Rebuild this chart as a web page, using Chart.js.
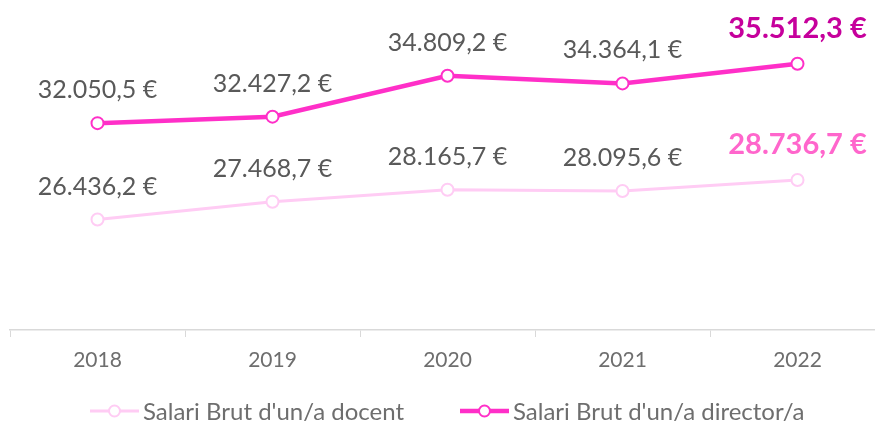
<!DOCTYPE html>
<html lang="ca">
<head>
  <meta charset="UTF-8" />
  <title>Salari brut</title>
  <script src="https://cdn.jsdelivr.net/npm/chart.js"></script>
  <style>
    html, body { margin: 0; padding: 0; background: #fff; overflow: hidden; }
    #chart { display: block; }
  </style>
</head>
<body>
  <canvas id="chart" width="900" height="424"></canvas>

  <script>
    const years = ["2018", "2019", "2020", "2021", "2022"];
    const docent = [26436.2, 27468.7, 28165.7, 28095.6, 28736.7];
    const director = [32050.5, 32427.2, 34809.2, 34364.1, 35512.3];
    const seriesNames = ["Salari Brut d'un/a docent", "Salari Brut d'un/a director/a"];

    const FONT = "Lato, 'Open Sans', sans-serif";
    const GREY = "#595959";
    const AXIS_GREY = "#6e6e6e";

    const lineColors = ["#ffccf4", "#ff2fc8"];
    const lineWidths = [3, 4.5];
    const lastLabelColors = ["#ff66cc", "#c6009c"];

    // 32050.5 -> "32.050,5 €"
    function euro(v) {
      const parts = v.toFixed(1).split(".");
      const ints = parts[0].replace(/\B(?=(\d{3})+(?!\d))/g, ".");
      return ints + "," + parts[1] + " €";
    }

    // value above every point, last one bigger, bold and coloured
    const valueLabels = {
      id: "valueLabels",
      afterDatasetsDraw(chart) {
        const ctx = chart.ctx;
        ctx.save();
        ctx.textAlign = "center";
        ctx.textBaseline = "middle";
        chart.data.datasets.forEach((ds, i) => {
          chart.getDatasetMeta(i).data.forEach((pt, j) => {
            const last = j === ds.data.length - 1;
            ctx.font = last ? "bold 29px " + FONT : "25px " + FONT;
            ctx.fillStyle = last ? lastLabelColors[i] : GREY;
            ctx.fillText(euro(ds.data[j]), pt.x, pt.y - (last ? 35 : 33));
          });
        });
        ctx.restore();
      }
    };

    // legend under the axis: short line with an open marker, then the name
    const lineLegend = {
      id: "lineLegend",
      afterDraw(chart) {
        const ctx = chart.ctx;
        const y = 411;
        const starts = [90, 460];
        ctx.save();
        ctx.font = "24px " + FONT;
        ctx.textAlign = "left";
        ctx.textBaseline = "middle";
        chart.data.datasets.forEach((ds, i) => {
          const x = starts[i];
          ctx.strokeStyle = lineColors[i];
          ctx.lineWidth = lineWidths[i];
          ctx.beginPath(); ctx.moveTo(x, y); ctx.lineTo(x + 49, y); ctx.stroke();
          ctx.fillStyle = "#fff";
          ctx.lineWidth = 2;
          ctx.beginPath(); ctx.arc(x + 24.5, y, 5.5, 0, Math.PI * 2); ctx.fill(); ctx.stroke();
          ctx.fillStyle = AXIS_GREY;
          ctx.fillText(ds.label, x + 53, y + 1);
        });
        ctx.restore();
      }
    };

    new Chart(document.getElementById("chart"), {
      type: "line",
      data: {
        labels: years,
        datasets: [docent, director].map((vals, i) => ({
          label: seriesNames[i],
          data: vals,
          borderColor: lineColors[i],
          borderWidth: lineWidths[i],
          pointBackgroundColor: "#fff",
          pointBorderColor: lineColors[i],
          pointBorderWidth: 2,
          pointRadius: 6,
          tension: 0
        }))
      },
      options: {
        responsive: false,
        animation: false,
        layout: { padding: { left: 10, right: 15, top: 21, bottom: 41 } },
        scales: {
          x: {
            offset: true,
            grid: { display: true, offset: true, drawOnChartArea: false, color: "#d9d9d9", tickLength: 7 },
            border: { color: "#d9d9d9", width: 1.5 },
            ticks: { color: AXIS_GREY, font: { family: FONT, size: 21 }, padding: 10.4 }
          },
          y: {
            display: false,
            min: 20000,
            max: 38000
          }
        },
        plugins: {
          tooltip: { enabled: false },
          legend: { display: false }
        }
      },
      plugins: [valueLabels, lineLegend]
    });
  </script>
</body>
</html>
